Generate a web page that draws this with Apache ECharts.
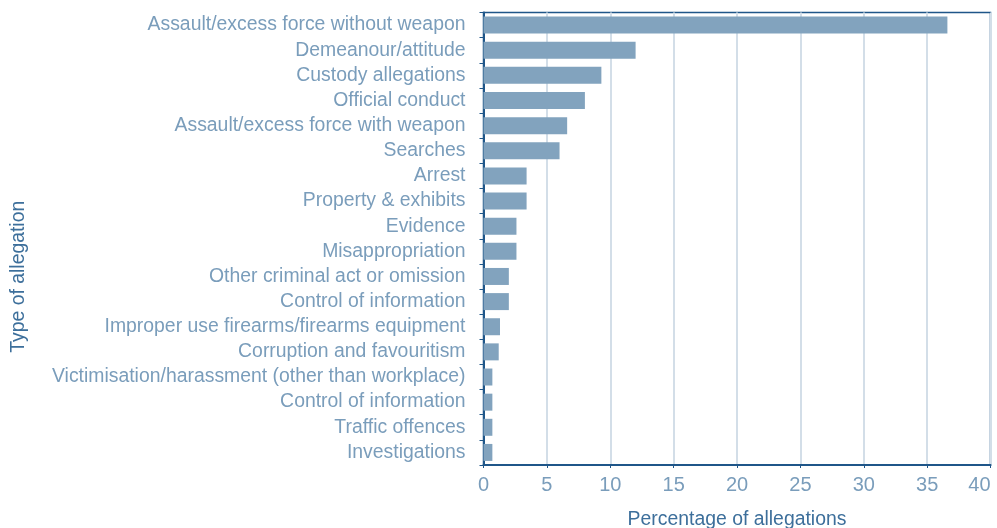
<!DOCTYPE html>
<html>
<head>
<meta charset="utf-8">
<script src="https://cdn.jsdelivr.net/npm/echarts@6/dist/echarts.min.js"></script>
<style>
  html, body { margin: 0; padding: 0; background: #fff; }
  #chart { width: 997px; height: 528px; }
</style>
</head>
<body>
<div id="chart"></div>
<script>
// categories, top to bottom
const categories = [
  'Assault/excess force without weapon',
  'Demeanour/attitude',
  'Custody allegations',
  'Official conduct',
  'Assault/excess force with weapon',
  'Searches',
  'Arrest',
  'Property & exhibits',
  'Evidence',
  'Misappropriation',
  'Other criminal act or omission',
  'Control of information',
  'Improper use firearms/firearms equipment',
  'Corruption and favouritism',
  'Victimisation/harassment (other than workplace)',
  'Control of information',
  'Traffic offences',
  'Investigations'
];
const percentages = [36.6, 12.0, 9.3, 8.0, 6.6, 6.0, 3.4, 3.4, 2.6, 2.6, 2.0, 2.0, 1.3, 1.2, 0.7, 0.7, 0.7, 0.7];
const xTicks = { min: 0, max: 40, interval: 5 };

const textColor = '#7a9dbb';
const axisColor = '#1f5689';
const nameColor = '#3d6f9b';

const chart = echarts.init(document.getElementById('chart'));
chart.setOption({
  animation: false,
  grid: {
    left: 483.5,
    right: 6.5,
    top: 12.5,
    bottom: 63,
    outerBoundsMode: 'none',
    containLabel: false,
    show: true,
    borderColor: axisColor,
    borderWidth: 1.5
  },
  xAxis: {
    type: 'value',
    min: xTicks.min,
    max: xTicks.max,
    interval: xTicks.interval,
    name: 'Percentage of allegations',
    nameLocation: 'middle',
    nameGap: 45,
    nameTextStyle: { color: nameColor, fontSize: 19.4, fontFamily: 'Liberation Sans' },
    axisLine: { show: true, lineStyle: { color: axisColor, width: 2 } },
    axisTick: { show: true, length: 3, lineStyle: { color: axisColor } },
    axisLabel: { color: textColor, fontSize: 20, fontFamily: 'Liberation Sans', margin: 10, alignMaxLabel: 'right' },
    splitLine: { show: true, lineStyle: { color: '#d3dee8', width: 2 } }
  },
  yAxis: {
    type: 'category',
    inverse: true,
    data: categories,
    name: 'Type of allegation',
    nameLocation: 'middle',
    nameGap: 455,
    nameRotate: 90,
    nameTextStyle: { color: nameColor, fontSize: 19.4, fontFamily: 'Liberation Sans', padding: [0, 76, 0, 0] },
    axisLine: { show: true, lineStyle: { color: axisColor, width: 2 } },
    axisTick: { show: true, length: 4, lineStyle: { color: axisColor } },
    axisLabel: { color: textColor, fontSize: 19.4, fontFamily: 'Liberation Sans', margin: 18 }
  },
  series: [{
    type: 'bar',
    data: percentages,
    barWidth: 17,
    itemStyle: { color: '#82a3be' }
  }]
});
</script>
</body>
</html>
